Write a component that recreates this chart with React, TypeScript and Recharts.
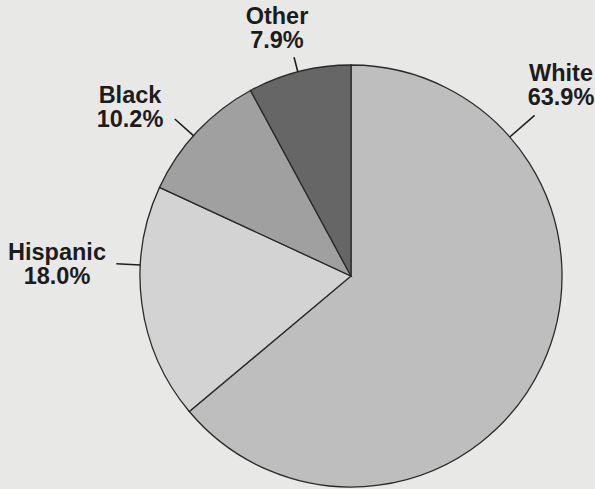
import React from "react";
import { PieChart, Pie, Cell } from "recharts";

const categories = ["White", "Hispanic", "Black", "Other"];
const shares = [63.9, 18.0, 10.2, 7.9];
const sliceColors = ["#bebebe", "#d3d3d3", "#a0a0a0", "#666666"];

const data = categories.map((name, i) => ({ name, value: shares[i] }));

// label placement (angle of leader line in degrees, leader length, text offset from centre)
const LABEL_LAYOUT: Record<string, { angle: number; len: number; tx: number; ty: number }> = {
  White: { angle: 41.2, len: 33, tx: 210, ty: -195 },
  Hispanic: { angle: 177, len: 24, tx: -294, ty: -16 },
  Black: { angle: 138.3, len: 25, tx: -221, ty: -173 },
  Other: { angle: 104.6, len: 15, tx: -74, ty: -252 },
};

const RAD = Math.PI / 180;

const renderLabel = (props: any) => {
  const { cx, cy, outerRadius, name, value } = props;
  const lay = LABEL_LAYOUT[name];
  if (!lay) return null;
  const cos = Math.cos(lay.angle * RAD);
  const sin = Math.sin(lay.angle * RAD);
  const x1 = cx + outerRadius * cos;
  const y1 = cy - outerRadius * sin;
  const x2 = cx + (outerRadius + lay.len) * cos;
  const y2 = cy - (outerRadius + lay.len) * sin;
  const tx = cx + lay.tx;
  const ty = cy + lay.ty;
  return (
    <g>
      <line x1={x1} y1={y1} x2={x2} y2={y2} stroke="#1e1e1e" strokeWidth={1.6} />
      <text
        x={tx}
        y={ty}
        textAnchor="middle"
        fill="#1c1c1c"
        style={{ fontFamily: "'Liberation Sans', Arial, sans-serif", fontWeight: 700, fontSize: 23.5 }}
      >
        <tspan x={tx} y={ty}>{name}</tspan>
        <tspan x={tx} y={ty + 23.5}>{`${Number(value).toFixed(1)}%`}</tspan>
      </text>
    </g>
  );
};

export default function App() {
  return (
    <div
      style={{
        position: "absolute",
        left: 0,
        top: 0,
        width: 595,
        height: 489,
        background: "#e8e8e6",
        overflow: "hidden",
      }}
    >
      <PieChart width={595} height={489} margin={{ top: 0, right: 0, bottom: 0, left: 0 }}>
        <Pie
          data={data}
          dataKey="value"
          nameKey="name"
          cx={351}
          cy={276}
          outerRadius={211}
          startAngle={90}
          endAngle={-270}
          stroke="#2a2a2a"
          strokeWidth={1.3}
          label={renderLabel}
          labelLine={false}
          isAnimationActive={false}
        >
          {data.map((d, i) => (
            <Cell key={d.name} fill={sliceColors[i]} />
          ))}
        </Pie>
      </PieChart>
    </div>
  );
}
